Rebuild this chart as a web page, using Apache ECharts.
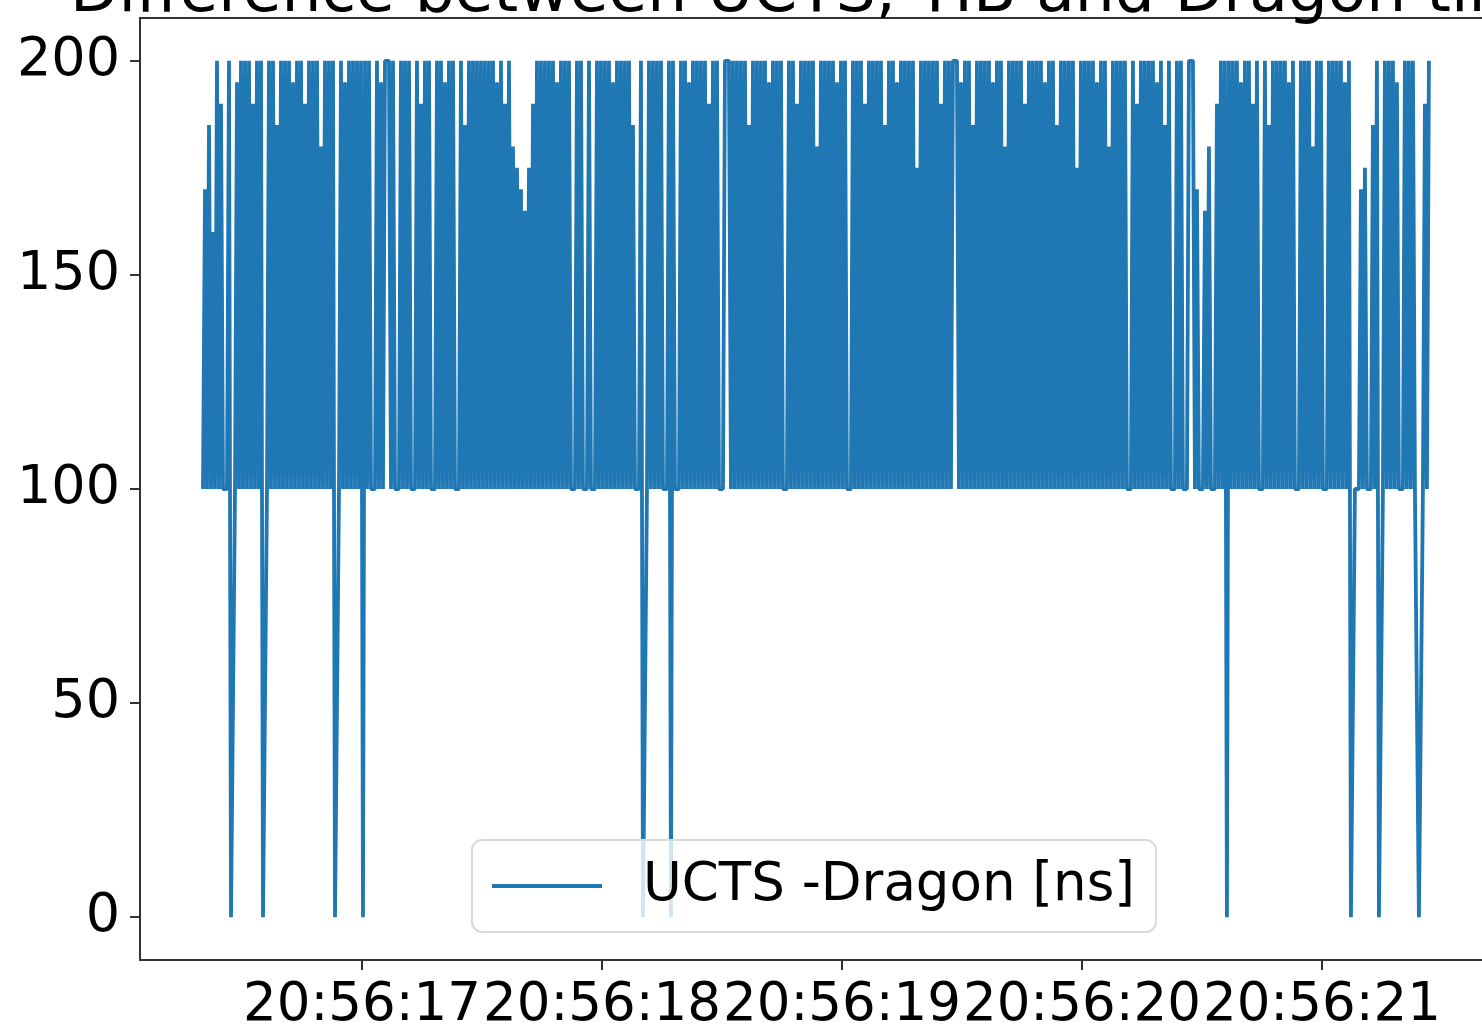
<!DOCTYPE html>
<html>
<head>
<meta charset="utf-8">
<script src="https://cdn.jsdelivr.net/npm/echarts@6/dist/echarts.min.js"></script>
<style>html,body{margin:0;padding:0;background:#fff;}#c{width:1482px;height:1025px;}</style>
</head>
<body>
<div id="c"></div>
<script>
// seconds after 20:56:00 of the first sample and the sampling step
const timeStart = 16.3375;
const timeStep = 0.0083333;
// UCTS - Dragon difference [ns]
const values = [
100,170,100,185,100,160,100,200,100,190,100,100,100,200,0,0,100,195,100,200,
100,200,100,200,100,190,100,200,100,200,0,0,100,200,100,200,100,185,100,200,
100,200,100,200,100,195,100,200,100,200,100,190,100,200,100,200,100,200,100,180,
100,200,100,200,100,200,0,0,100,200,100,195,100,200,100,200,100,200,100,200,
0,200,100,200,100,100,100,200,100,195,100,200,200,200,100,200,100,100,100,200,
100,200,100,200,100,100,100,200,100,190,100,200,100,200,100,100,100,200,100,200,
100,195,100,200,100,200,100,100,100,200,100,185,100,200,100,200,100,200,100,200,
100,200,100,200,100,200,100,195,100,200,100,190,100,200,100,180,100,175,100,170,
100,165,100,175,100,190,100,200,100,200,100,200,100,200,100,200,100,195,100,200,
100,200,100,200,100,100,100,200,100,200,100,100,100,200,100,100,100,200,100,200,
100,200,100,200,100,195,100,200,100,200,100,200,100,200,100,185,100,100,100,200,
0,0,100,200,100,200,100,200,100,200,100,100,100,200,0,200,100,100,100,200,
100,200,100,195,100,200,100,200,100,200,100,200,100,190,100,200,100,200,100,100,
100,200,200,200,100,200,100,200,100,200,100,200,100,185,100,200,100,200,100,200,
100,200,100,195,100,200,100,200,100,200,100,100,100,200,100,200,100,190,100,200,
100,200,100,200,100,200,100,180,100,200,100,200,100,200,100,200,100,195,100,200,
100,200,100,100,100,200,100,200,100,200,100,190,100,200,100,200,100,200,100,200,
100,185,100,200,100,200,100,195,100,200,100,200,100,200,100,200,100,175,100,200,
100,200,100,200,100,200,100,200,100,190,100,200,100,200,100,200,200,200,100,195,
100,200,100,200,100,185,100,200,100,200,100,200,100,200,100,195,100,200,100,200,
100,180,100,200,100,200,100,200,100,200,100,190,100,200,100,200,100,200,100,200,
100,195,100,200,100,200,100,185,100,200,100,200,100,200,100,200,100,175,100,200,
100,200,100,200,100,200,100,195,100,200,100,200,100,180,100,200,100,200,100,200,
100,200,100,100,100,200,100,190,100,200,100,200,100,200,100,200,100,195,100,200,
100,185,100,200,100,100,100,200,100,200,100,100,100,200,200,200,100,170,100,100,
100,165,100,180,100,100,100,190,100,200,100,200,0,200,100,200,100,200,100,195,
100,200,100,200,100,190,100,200,100,100,100,200,100,185,100,200,100,200,100,200,
100,200,100,195,100,200,100,100,100,200,100,200,100,200,100,180,100,200,100,200,
100,100,100,200,100,200,100,200,100,200,100,195,100,200,0,0,100,100,100,170,
100,175,100,100,100,185,100,200,0,0,100,200,100,200,100,200,100,195,100,100,
100,200,100,200,100,200,100,100,0,0,100,190,100,200
];
const xTickValues = [17, 18, 19, 20, 21];
const xTickLabels = ['20:56:17', '20:56:18', '20:56:19', '20:56:20', '20:56:21'];
const yTickValues = [0, 50, 100, 150, 200];
const yTickLabels = ['0', '50', '100', '150', '200'];
const seriesName = 'UCTS -Dragon [ns]';
const titleText = 'Difference between UCTS, TIB and Dragon time';

const seriesData = values.map((v, i) => [timeStart + i * timeStep, v]);
const FONT = 'DejaVu Sans';
const chart = echarts.init(document.getElementById('c'), null, {renderer: 'canvas'});
chart.setOption({
  animation: false,
  backgroundColor: '#ffffff',
  title: {
    text: titleText, left: 65, top: -42,
    textStyle: {fontFamily: FONT, fontSize: 63, fontWeight: 'normal', color: '#000'}
  },
  grid: {left: 140, right: 0, top: 18, bottom: 65, containLabel: false, outerBoundsMode: 'none'},
  legend: {
    data: [seriesName], left: 472, top: 840,
    icon: 'rect', itemWidth: 110, itemHeight: 4,
    padding: [16, 21, 16, 20],
    backgroundColor: 'rgba(255,255,255,0.8)', borderColor: '#d9d9d9', borderWidth: 2, borderRadius: 10,
    textStyle: {fontFamily: FONT, fontSize: 53, color: '#000', lineHeight: 60, padding: [0, 0, 0, 36]}
  },
  xAxis: [{
    type: 'value', min: 16.075, max: 21.667, position: 'bottom',
    axisLine: {show: true, onZero: false, lineStyle: {color: '#333', width: 2}},
    axisTick: {show: true, length: 10, lineStyle: {color: '#333', width: 2}, customValues: xTickValues},
    axisLabel: {
      customValues: xTickValues, margin: 20, fontFamily: FONT, fontSize: 53, color: '#000',
      formatter: function (val) { const k = xTickValues.indexOf(Math.round(val)); return k >= 0 ? xTickLabels[k] : ''; }
    },
    splitLine: {show: false}
  }, {
    type: 'value', min: 16.075, max: 21.667, position: 'top',
    axisLine: {show: true, onZero: false, lineStyle: {color: '#333', width: 2}},
    axisTick: {show: false}, axisLabel: {show: false}, splitLine: {show: false}
  }],
  yAxis: {
    type: 'value', min: -10, max: 210,
    axisLine: {show: true, onZero: false, lineStyle: {color: '#333', width: 2}},
    axisTick: {show: true, length: 10, lineStyle: {color: '#333', width: 2}, customValues: yTickValues},
    axisLabel: {
      customValues: yTickValues, margin: 20, fontFamily: FONT, fontSize: 54, color: '#000',
      formatter: function (val) { const k = yTickValues.indexOf(Math.round(val)); return k >= 0 ? yTickLabels[k] : ''; }
    },
    splitLine: {show: false}
  },
  series: [{
    name: seriesName, type: 'line', xAxisIndex: 0, data: seriesData,
    showSymbol: false, symbol: 'none', sampling: null,
    lineStyle: {color: '#1f77b4', width: 3.8},
    itemStyle: {color: '#1f77b4'}
  }]
});
</script>
</body>
</html>
